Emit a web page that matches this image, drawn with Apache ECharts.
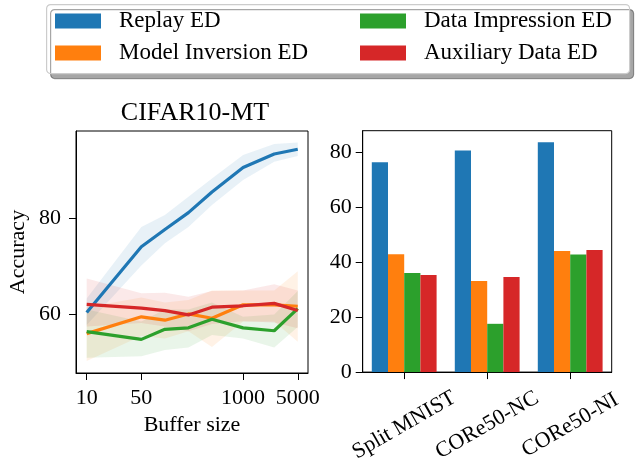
<!DOCTYPE html>
<html>
<head>
<meta charset="utf-8">
<script src="https://cdn.jsdelivr.net/npm/echarts@6/dist/echarts.min.js"></script>
<style>html,body{margin:0;padding:0;background:#fff}#c{width:637px;height:465px}</style>
</head>
<body>
<div id="c"></div>
<script>
// ---- data ----
const seriesNames = ['Replay ED', 'Model Inversion ED', 'Data Impression ED', 'Auxiliary Data ED'];
const colors = ['#1f77b4', '#ff7f0e', '#2ca02c', '#d62728'];

const bufferSizes = [10, 50, 100, 200, 400, 1000, 2500, 5000];
const xTickLabels = [10, 50, 1000, 5000];
const yTickLeft = [60, 80];

const replayMean = [60.4, 74.1, 77.7, 81.2, 85.5, 90.6, 93.4, 94.4];
const replayLo   = [57.8, 70.2, 74.8, 78.2, 82.8, 88.0, 91.8, 93.0];
const replayHi   = [63.3, 78.2, 80.7, 84.5, 88.3, 93.2, 95.5, 95.8];

const invMean = [56.0, 59.5, 58.8, 60.1, 59.2, 62.0, 62.0, 61.7];
const invLo   = [50.3, 55.5, 55.0, 56.5, 53.2, 58.5, 58.5, 54.3];
const invHi   = [61.5, 63.5, 62.5, 63.0, 65.0, 65.0, 65.0, 69.0];

const impMean = [56.4, 54.8, 56.9, 57.2, 59.0, 57.2, 56.6, 61.2];
const impLo   = [51.0, 51.3, 52.6, 53.1, 55.7, 55.0, 53.1, 57.4];
const impHi   = [61.0, 58.5, 61.0, 61.0, 62.5, 59.5, 60.0, 64.9];

const auxMean = [62.1, 61.3, 60.8, 59.9, 61.5, 61.8, 62.3, 60.8];
const auxLo   = [57.5, 58.2, 57.5, 56.5, 58.0, 58.6, 58.3, 57.1];
const auxHi   = [67.5, 64.4, 64.5, 63.7, 64.9, 65.0, 66.3, 65.0];

const benchmarks = ['Split MNIST', 'CORe50-NC', 'CORe50-NI'];
const barReplay = [76.5, 80.8, 83.8];
const barInv    = [43.0, 33.2, 44.1];
const barImp    = [36.1, 17.6, 42.9];
const barAux    = [35.4, 34.7, 44.5];
const yTickRight = [0, 20, 40, 60, 80];

// ---- build ----
const FONT = 'Liberation Serif';
const means = [replayMean, invMean, impMean, auxMean];
const los = [replayLo, invLo, impLo, auxLo];
const his = [replayHi, invHi, impHi, auxHi];
const bars = [barReplay, barInv, barImp, barAux];

const series = [];
// bar series first so legend picks them
bars.forEach((b, i) => {
  series.push({
    name: seriesNames[i], type: 'bar', xAxisIndex: 1, yAxisIndex: 1,
    data: b, barWidth: 16.2, barGap: '0%',
    itemStyle: { color: colors[i] }, z: 2
  });
});
// confidence bands as polygons through the axes' scales
means.forEach((m, i) => {
  const lo = los[i], hi = his[i];
  series.push({
    name: seriesNames[i] + ' band', type: 'custom', xAxisIndex: 0, yAxisIndex: 0,
    silent: true, z: 1, clip: true,
    data: bufferSizes.map((x, k) => [x, lo[k], hi[k]]),
    encode: { x: 0, y: [1, 2] },
    renderItem: function (params, api) {
      if (params.dataIndex !== 0) return null;
      const pts = [];
      for (let k = 0; k < bufferSizes.length; k++) pts.push(api.coord([bufferSizes[k], hi[k]]));
      for (let k = bufferSizes.length - 1; k >= 0; k--) pts.push(api.coord([bufferSizes[k], lo[k]]));
      return {
        type: 'polygon', shape: { points: pts },
        style: { fill: colors[i], opacity: 0.1 }
      };
    }
  });
});
// mean lines
means.forEach((m, i) => {
  series.push({
    name: seriesNames[i], type: 'line', xAxisIndex: 0, yAxisIndex: 0,
    data: bufferSizes.map((x, k) => [x, m[k]]),
    symbol: 'none', silent: true,
    itemStyle: { color: colors[i] },
    lineStyle: { color: colors[i], width: 3.2 }, z: 3
  });
});

const tickLbl = { fontFamily: FONT, fontSize: 22, color: '#000' };

const legendCommon = {
  orient: 'vertical', top: 9.5, padding: 0, icon: 'rect',
  itemWidth: 46, itemHeight: 15, itemGap: 9,
  selectedMode: false,
  textStyle: { fontFamily: FONT, fontSize: 23, color: '#000', lineHeight: 23, padding: [0, 0, 0, 13] }
};

const option = {
  animation: false,
  backgroundColor: '#fff',
  graphic: [{
    type: 'rect', left: 46, top: 4, z: -10,
    shape: { width: 583, height: 69, r: 4 },
    style: { fill: '#fff', stroke: '#cccccc', lineWidth: 1.2,
      shadowColor: 'rgba(0,0,0,0.35)', shadowOffsetX: 4, shadowOffsetY: 5, shadowBlur: 0 }
  }],
  title: {
    text: 'CIFAR10-MT', left: 190, top: 95, textAlign: 'center',
    textStyle: { fontFamily: FONT, fontSize: 26, fontWeight: 'normal', color: '#000' }
  },
  legend: [
    Object.assign({}, legendCommon, { left: 55, data: ['Replay ED', 'Model Inversion ED'] }),
    Object.assign({}, legendCommon, { left: 360, data: ['Data Impression ED', 'Auxiliary Data ED'] })
  ],
  grid: [
    { left: 76, top: 131, width: 232, height: 242, show: true, borderColor: '#000', borderWidth: 1, backgroundColor: 'transparent' },
    { left: 362.7, top: 130.7, width: 249, height: 241.6, show: true, borderColor: '#000', borderWidth: 1, backgroundColor: 'transparent' }
  ],
  xAxis: [
    {
      type: 'log', logBase: 10, gridIndex: 0, min: 7.3, max: 6760,
      name: 'Buffer size', nameLocation: 'middle', nameGap: 40,
      nameTextStyle: { fontFamily: FONT, fontSize: 22, color: '#000' },
      axisLine: { show: true, lineStyle: { color: '#000', width: 1 } },
      axisTick: { show: true, length: 7, lineStyle: { color: '#000', width: 1 }, customValues: xTickLabels },
      axisLabel: Object.assign({ margin: 14, customValues: xTickLabels, formatter: v => String(Math.round(v)) }, tickLbl),
      splitLine: { show: false }, minorTick: { show: false }
    },
    {
      type: 'category', gridIndex: 1, data: benchmarks, boundaryGap: true,
      axisLine: { show: true, lineStyle: { color: '#000', width: 1 } },
      axisTick: { show: true, alignWithLabel: true, length: 7, lineStyle: { color: '#000', width: 1 } },
      axisLabel: Object.assign({ rotate: 30, align: 'center', verticalAlign: 'middle', margin: 53, interval: 0 }, tickLbl),
      splitLine: { show: false }
    }
  ],
  yAxis: [
    {
      type: 'value', gridIndex: 0, min: 47.8, max: 98.2,
      name: 'Accuracy', nameLocation: 'middle', nameGap: 47,
      nameTextStyle: { fontFamily: FONT, fontSize: 22, color: '#000' },
      axisLine: { show: true, lineStyle: { color: '#000', width: 1 } },
      axisTick: { show: true, length: 7, lineStyle: { color: '#000', width: 1 }, customValues: yTickLeft },
      axisLabel: Object.assign({ margin: 15, customValues: yTickLeft }, tickLbl),
      splitLine: { show: false }
    },
    {
      type: 'value', gridIndex: 1, min: 0, max: 88,
      axisLine: { show: true, lineStyle: { color: '#000', width: 1 } },
      axisTick: { show: true, length: 7, lineStyle: { color: '#000', width: 1 }, customValues: yTickRight },
      axisLabel: Object.assign({ margin: 11, customValues: yTickRight }, tickLbl),
      splitLine: { show: false }
    }
  ],
  series: series
};

const chart = echarts.init(document.getElementById('c'), null, { renderer: 'canvas' });
chart.setOption(option);
</script>
</body>
</html>
